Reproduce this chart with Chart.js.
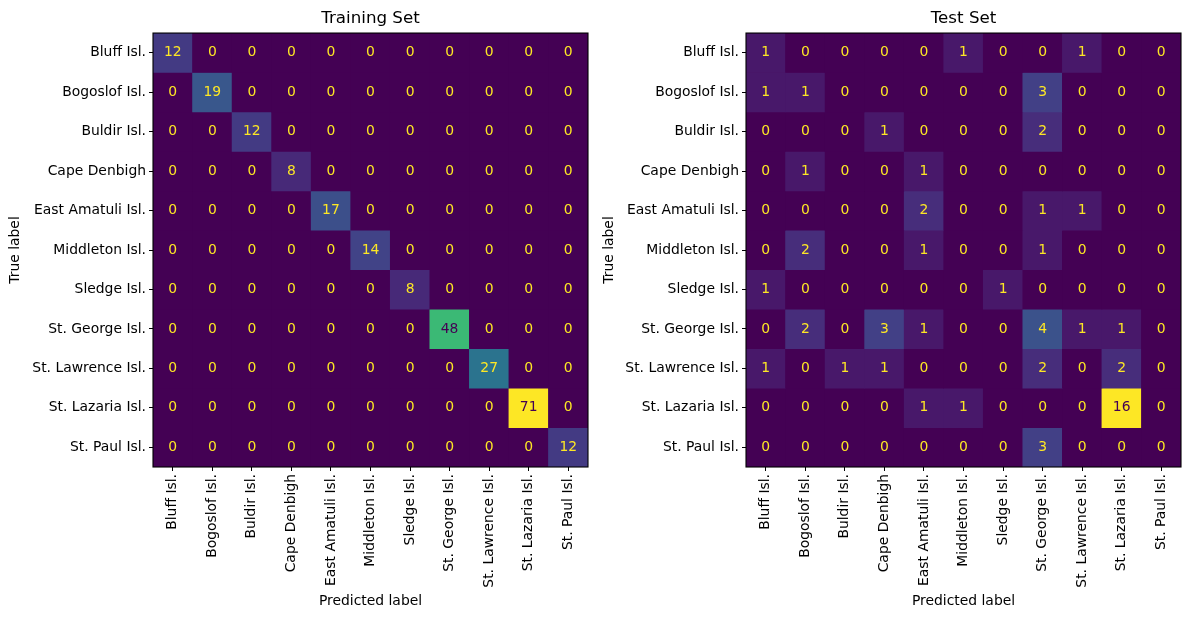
<!DOCTYPE html>
<html>
<head>
<meta charset="utf-8">
<script src="https://cdn.jsdelivr.net/npm/chart.js@4.4.1/dist/chart.umd.min.js"></script>
<style>
  html, body { margin: 0; padding: 0; background: #fff; }
  #wrap { position: relative; width: 1189px; height: 619px; }
  canvas { position: absolute; top: 0; }
</style>
</head>
<body>
<div id="wrap">
  <canvas id="train" width="594" height="619" style="left:0"></canvas>
  <canvas id="test" width="595" height="619" style="left:594px"></canvas>
</div>
<script>
// --- Dados ---
const classes = ['Bluff Isl.', 'Bogoslof Isl.', 'Buldir Isl.', 'Cape Denbigh', 'East Amatuli Isl.',
  'Middleton Isl.', 'Sledge Isl.', 'St. George Isl.', 'St. Lawrence Isl.', 'St. Lazaria Isl.', 'St. Paul Isl.'];

const trainCounts = [
  [12, 0, 0, 0, 0, 0, 0, 0, 0, 0, 0],
  [0, 19, 0, 0, 0, 0, 0, 0, 0, 0, 0],
  [0, 0, 12, 0, 0, 0, 0, 0, 0, 0, 0],
  [0, 0, 0, 8, 0, 0, 0, 0, 0, 0, 0],
  [0, 0, 0, 0, 17, 0, 0, 0, 0, 0, 0],
  [0, 0, 0, 0, 0, 14, 0, 0, 0, 0, 0],
  [0, 0, 0, 0, 0, 0, 8, 0, 0, 0, 0],
  [0, 0, 0, 0, 0, 0, 0, 48, 0, 0, 0],
  [0, 0, 0, 0, 0, 0, 0, 0, 27, 0, 0],
  [0, 0, 0, 0, 0, 0, 0, 0, 0, 71, 0],
  [0, 0, 0, 0, 0, 0, 0, 0, 0, 0, 12]
];

const testCounts = [
  [1, 0, 0, 0, 0, 1, 0, 0, 1, 0, 0],
  [1, 1, 0, 0, 0, 0, 0, 3, 0, 0, 0],
  [0, 0, 0, 1, 0, 0, 0, 2, 0, 0, 0],
  [0, 1, 0, 0, 1, 0, 0, 0, 0, 0, 0],
  [0, 0, 0, 0, 2, 0, 0, 1, 1, 0, 0],
  [0, 2, 0, 0, 1, 0, 0, 1, 0, 0, 0],
  [1, 0, 0, 0, 0, 0, 1, 0, 0, 0, 0],
  [0, 2, 0, 3, 1, 0, 0, 4, 1, 1, 0],
  [1, 0, 1, 1, 0, 0, 0, 2, 0, 2, 0],
  [0, 0, 0, 0, 1, 1, 0, 0, 0, 16, 0],
  [0, 0, 0, 0, 0, 0, 0, 3, 0, 0, 0]
];

// --- Colormap (viridis) ---
const viridisStops = ['#440154', '#48186a', '#472d7b', '#424086', '#3b528b', '#33638d', '#2c728e', '#26828e',
  '#21918c', '#1fa088', '#28ae80', '#3fbc73', '#5ec962', '#84d44b', '#addc30', '#d8e219', '#fde725'];

function hexToRgb(h) {
  return [1, 3, 5].map(i => parseInt(h.substr(i, 2), 16));
}

function viridis(t) {
  t = Math.max(0, Math.min(1, t));
  const pos = t * (viridisStops.length - 1);
  const i = Math.min(Math.floor(pos), viridisStops.length - 2);
  const f = pos - i;
  const a = hexToRgb(viridisStops[i]);
  const b = hexToRgb(viridisStops[i + 1]);
  const c = a.map((v, k) => Math.round(v + (b[k] - v) * f));
  return `rgb(${c[0]}, ${c[1]}, ${c[2]})`;
}

const FONT = "'DejaVu Sans', sans-serif";

// --- Plugins ---
const cellBackground = {
  id: 'cellBackground',
  beforeDatasetsDraw(chart) {
    const { ctx, chartArea: a } = chart;
    ctx.save();
    ctx.fillStyle = viridisStops[0];
    ctx.fillRect(a.left, a.top, a.right - a.left, a.bottom - a.top);
    ctx.restore();
  }
};

const cellLabels = {
  id: 'cellLabels',
  afterDatasetsDraw(chart) {
    const { ctx } = chart;
    const counts = chart.options.plugins.cellLabels.counts;
    const flat = counts.flat();
    const max = Math.max(...flat), min = Math.min(...flat);
    const thresh = (max + min) / 2;
    ctx.save();
    ctx.font = `13.9px ${FONT}`;
    ctx.textAlign = 'center';
    ctx.textBaseline = 'middle';
    chart.data.datasets.forEach((ds, r) => {
      chart.getDatasetMeta(r).data.forEach((bar, c) => {
        const v = counts[r][c];
        ctx.fillStyle = v < thresh ? '#fde725' : '#440154';
        ctx.fillText(String(v), bar.x, (bar.y + bar.base) / 2);
      });
    });
    ctx.restore();
  }
};

const frame = {
  id: 'frame',
  afterDraw(chart) {
    const { ctx, chartArea: a } = chart;
    ctx.save();
    ctx.strokeStyle = '#000';
    ctx.lineWidth = 1.1;
    ctx.strokeRect(a.left, a.top, a.right - a.left, a.bottom - a.top);
    ctx.restore();
  }
};

// --- Matriz ---
function makeMatrix(canvasId, title, counts, yWidth, padRight) {
  const max = Math.max(...counts.flat());
  const datasets = counts.map((row, r) => ({
    label: classes[r],
    data: classes.map(() => [r, r + 1]),
    backgroundColor: row.map(v => viridis(v / max)),
    borderWidth: 0,
    barPercentage: 1,
    categoryPercentage: 1,
    grouped: false
  }));

  return new Chart(document.getElementById(canvasId), {
    type: 'bar',
    data: { labels: classes, datasets },
    plugins: [cellBackground, cellLabels, frame],
    options: {
      responsive: false,
      animation: false,
      devicePixelRatio: 1,
      layout: { padding: { left: 0, right: padRight, top: 0, bottom: 0 } },
      plugins: {
        legend: { display: false },
        tooltip: { enabled: false },
        title: {
          display: true,
          text: title,
          fullSize: false,
          color: '#000',
          font: { family: FONT, size: 16.7, weight: 'normal', lineHeight: 1.2 },
          padding: { top: 9, bottom: 4 }
        },
        cellLabels: { counts }
      },
      scales: {
        x: {
          type: 'category',
          offset: true,
          border: { display: false },
          grid: { display: true, offset: false, drawOnChartArea: false, drawTicks: true, tickLength: 4, color: '#000' },
          ticks: { color: '#000', font: { family: FONT, size: 13.9 }, minRotation: 90, maxRotation: 90, autoSkip: false, padding: 3 },
          title: { display: true, text: 'Predicted label', color: '#000', font: { family: FONT, size: 13.9 }, padding: { top: 9, bottom: 9 } },
          afterFit: s => { s.height = 152; }
        },
        y: {
          type: 'linear',
          reverse: true,
          min: 0,
          max: classes.length,
          border: { display: false },
          grid: { display: true, drawOnChartArea: false, drawTicks: true, tickLength: 4, color: '#000' },
          afterBuildTicks: axis => { axis.ticks = classes.map((_, i) => ({ value: i + 0.5 })); },
          ticks: {
            color: '#000', font: { family: FONT, size: 13.9 }, autoSkip: false, padding: 3,
            callback: (value, index) => classes[index]
          },
          title: { display: true, text: 'True label', color: '#000', font: { family: FONT, size: 13.9 }, padding: { top: 7, bottom: 0 } },
          afterFit: s => { s.width = yWidth; }
        }
      }
    }
  });
}

// --- Inicialização ---
makeMatrix('train', 'Training Set', trainCounts, 153, 6);
makeMatrix('test', 'Test Set', testCounts, 152, 8);
</script>
</body>
</html>
